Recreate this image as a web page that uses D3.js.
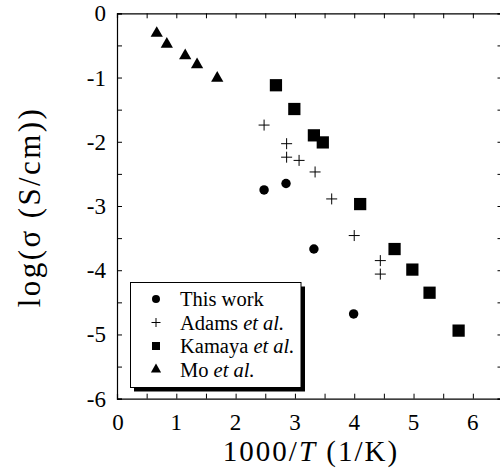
<!DOCTYPE html>
<html>
<head>
<meta charset="utf-8">
<script src="https://cdn.jsdelivr.net/npm/d3@7"></script>
<style>
  body { margin: 0; background: #fff; }
</style>
</head>
<body>
<div id="chart"></div>
<script>
const width = 500, height = 472;
const serif = "'Liberation Serif', 'Times New Roman', Times, 'DejaVu Serif', serif";

// data: [1000/T, log(sigma)]
const thisWork = [[2.48, -2.75], [2.85, -2.65], [3.32, -3.67], [3.99, -4.68]];
const adams = [[2.48, -1.74], [2.86, -2.03], [2.86, -2.24], [3.07, -2.29], [3.34, -2.47],
  [3.62, -2.89], [4.00, -3.46], [4.44, -3.85], [4.44, -4.06]];
const kamaya = [[2.68, -1.12], [2.99, -1.49], [3.32, -1.90], [3.47, -2.01], [4.10, -2.97],
  [4.68, -3.67], [4.98, -3.99], [5.27, -4.35], [5.76, -4.94]];
const mo = [[0.67, -0.31], [0.84, -0.48], [1.15, -0.66], [1.35, -0.80], [1.69, -1.01]];

const xTicks = [0, 1, 2, 3, 4, 5, 6];
const yTicks = [0, -1, -2, -3, -4, -5, -6];
const seriesNames = ['This work', 'Adams', 'Kamaya', 'Mo'];

const x = d3.scaleLinear().domain([0, 6.5]).range([117, 502.5]);
const y = d3.scaleLinear().domain([-6, 0]).range([398.7, 13.3]);

const svg = d3.select('#chart').append('svg')
  .attr('width', width).attr('height', height)
  .attr('font-family', serif);

const xMinor = d3.range(0, 6.51, 0.5);
const yMinor = d3.range(-6, 0.01, 0.5);

// frame ticks, all pointing inward
const axBottom = svg.append('g').attr('transform', `translate(0,${y(-6)})`)
  .call(d3.axisBottom(x).tickValues(xMinor).tickSize(-5).tickFormat(''));
const axTop = svg.append('g').attr('transform', `translate(0,${y(0)})`)
  .call(d3.axisTop(x).tickValues(xMinor).tickSize(-5).tickFormat(''));
const axLeft = svg.append('g').attr('transform', `translate(${x(0)},0)`)
  .call(d3.axisLeft(y).tickValues(yMinor).tickSize(-5).tickFormat(''));
const axRight = svg.append('g').attr('transform', `translate(${x(6.5)},0)`)
  .call(d3.axisRight(y).tickValues(yMinor).tickSize(-5).tickFormat(''));
[axBottom, axTop, axLeft, axRight].forEach(g => {
  g.selectAll('path, line').attr('stroke', '#000').attr('stroke-width', 1);
  g.select('.domain').attr('stroke-width', 1.2);
});

const txt = g => g.append('text').attr('font-family', serif).attr('fill', '#000');

// tick labels
svg.append('g').selectAll('text').data(xTicks).join('text')
  .attr('font-family', serif)
  .attr('x', d => x(d) + (d === 0 ? 1 : 0)).attr('y', 430)
  .attr('text-anchor', 'middle').attr('font-size', 23)
  .text(d => d);
svg.append('g').selectAll('text').data(yTicks).join('text')
  .attr('font-family', serif)
  .attr('x', 106).attr('y', d => y(d) + 8)
  .attr('text-anchor', 'end').attr('font-size', 23)
  .text(d => d);

// axis titles
const xt = txt(svg).attr('x', 311).attr('y', 461)
  .attr('text-anchor', 'middle').attr('font-size', 29)
  .attr('letter-spacing', 2);
xt.append('tspan').text('1000/');
xt.append('tspan').attr('font-style', 'italic').text('T');
xt.append('tspan').text(' (1/K)');

txt(svg)
  .attr('transform', `translate(40,${(y(0) + y(-6)) / 2 + 1}) rotate(-90)`)
  .attr('text-anchor', 'middle').attr('font-size', 31)
  .attr('letter-spacing', 2.4)
  .text('log(σ (S/cm))');

// markers
const sym = {
  'This work': d3.symbol().type(d3.symbolCircle),
  'Kamaya': d3.symbol().type(d3.symbolSquare),
  'Mo': d3.symbol().type(d3.symbolTriangle)
};
const plot = svg.append('g');
plot.selectAll('.c').data(thisWork).join('path').attr('class', 'c')
  .attr('transform', d => `translate(${x(d[0])},${y(d[1])})`)
  .attr('d', sym['This work'].size(70)()).attr('fill', '#000');
plot.selectAll('.s').data(kamaya).join('path').attr('class', 's')
  .attr('transform', d => `translate(${x(d[0])},${y(d[1])})`)
  .attr('d', sym['Kamaya'].size(150)()).attr('fill', '#000');
plot.selectAll('.t').data(mo).join('path').attr('class', 't')
  .attr('transform', d => `translate(${x(d[0])},${y(d[1])})`)
  .attr('d', sym['Mo'].size(65)()).attr('fill', '#000');
plot.selectAll('.p').data(adams).join('path').attr('class', 'p')
  .attr('transform', d => `translate(${x(d[0])},${y(d[1])})`)
  .attr('d', 'M-5.5,0H5.5M0,-5.5V5.5').attr('stroke', '#000').attr('stroke-width', 1).attr('fill', 'none');

// legend with drop shadow
const lg = svg.append('g');
lg.append('rect').attr('x', 134).attr('y', 286.5).attr('width', 171).attr('height', 105).attr('fill', '#000');
lg.append('rect').attr('x', 130.5).attr('y', 282.5).attr('width', 170.5).attr('height', 105)
  .attr('fill', '#fff').attr('stroke', '#000').attr('stroke-width', 1);

const rowY = [306, 329.5, 353, 376.5];
const lgSym = [
  sym['This work'].size(50)(),
  'M-4.5,0H4.5M0,-4.5V4.5',
  sym['Kamaya'].size(64)(),
  sym['Mo'].size(45)()
];
seriesNames.forEach((name, i) => {
  const cy = rowY[i] - 7;
  const p = lg.append('path').attr('transform', `translate(156,${cy})`).attr('d', lgSym[i]);
  if (i === 1) p.attr('stroke', '#000').attr('fill', 'none');
  else p.attr('fill', '#000');
  const t = txt(lg).attr('x', 180).attr('y', rowY[i]).attr('font-size', 20.5);
  if (i === 0) t.text(name);
  else {
    t.append('tspan').text(name + ' ');
    t.append('tspan').attr('font-style', 'italic').text('et al.');
  }
});
</script>
</body>
</html>
